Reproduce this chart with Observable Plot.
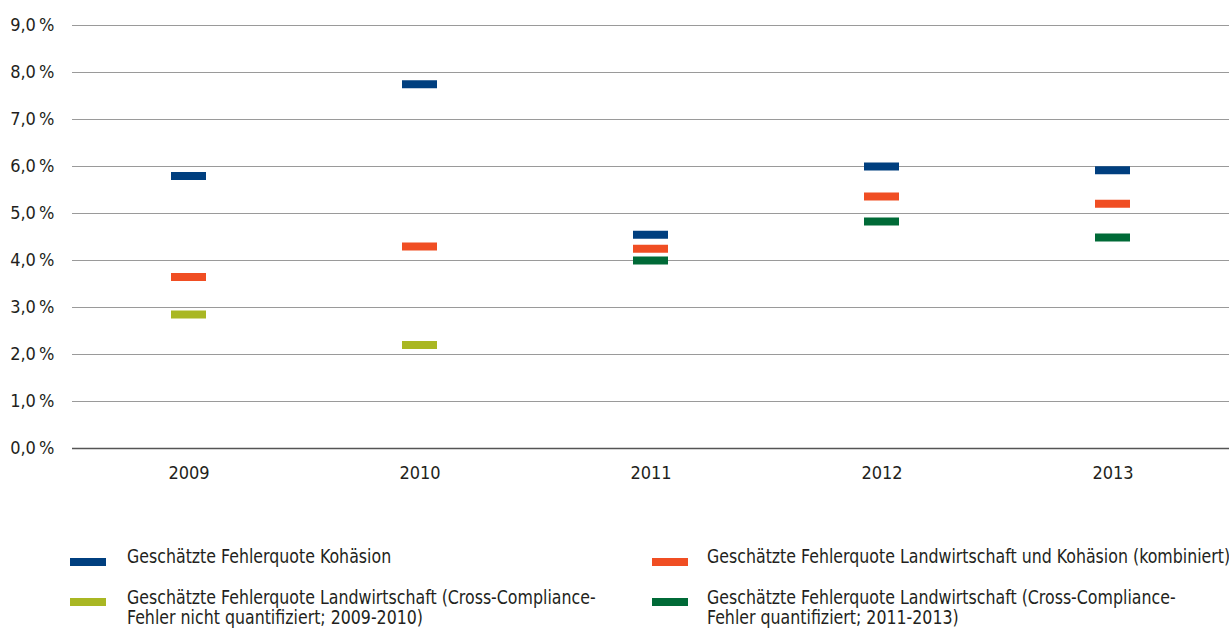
<!DOCTYPE html>
<html>
<head>
<meta charset="utf-8">
<script src="https://cdn.jsdelivr.net/npm/d3@7"></script>
<script src="https://cdn.jsdelivr.net/npm/@observablehq/plot@0.6"></script>
<style>
  html, body { margin: 0; padding: 0; background: #fff; overflow: hidden; width: 1229px; height: 632px; }
  body { font-family: "DejaVu Sans Condensed", "Liberation Sans", sans-serif; color: #231f20; position: relative; }
  #chart { position: absolute; left: 0; top: 0; }
  .leg { position: absolute; white-space: nowrap; font-size: 19px; line-height: 20px; color: #231f20; transform: scaleX(0.925); transform-origin: 0 0; }
  .sw { position: absolute; width: 36px; height: 8px; }
</style>
</head>
<body>
<div id="chart"></div>
<div id="legend"></div>
<script>
const years = ["2009", "2010", "2011", "2012", "2013"];
const kohaesion = [5.8, 7.75, 4.55, 6.0, 5.92];
const kombiniert = [3.65, 4.3, 4.25, 5.36, 5.21];
const landwNichtQuant = [2.85, 2.2, null, null, null];
const landwQuant = [null, null, 4.0, 4.83, 4.49];
const yTicks = [0, 1, 2, 3, 4, 5, 6, 7, 8, 9];

const seriesNames = [
  "Geschätzte Fehlerquote Kohäsion",
  "Geschätzte Fehlerquote Landwirtschaft und Kohäsion (kombiniert)",
  "Geschätzte Fehlerquote Landwirtschaft (Cross-Compliance-Fehler nicht quantifiziert; 2009-2010)",
  "Geschätzte Fehlerquote Landwirtschaft (Cross-Compliance-Fehler quantifiziert; 2011-2013)"
];
const seriesColors = ["#003f7f", "#f04e23", "#a9b723", "#006a37"];
const seriesValues = [kohaesion, kombiniert, landwNichtQuant, landwQuant];

const data = [];
seriesValues.forEach((vals, si) => {
  vals.forEach((v, i) => {
    if (v != null) data.push({year: years[i], value: v, series: seriesNames[si]});
  });
});

const fmt = d => d.toFixed(1).replace(".", ",") + "\u2009%";

const chart = Plot.plot({
  width: 1229,
  height: 500,
  marginLeft: 72,
  marginRight: 0,
  marginTop: 25,
  marginBottom: 52,
  style: {fontFamily: '"DejaVu Sans Condensed", sans-serif', fontSize: "18px", color: "#231f20", background: "#fff"},
  x: {domain: years, padding: 0, label: null},
  y: {domain: [0, 9], label: null},
  color: {domain: seriesNames, range: seriesColors},
  marks: [
    Plot.ruleY(yTicks.filter(d => d > 0), {stroke: "#9a9a9a", strokeWidth: 1.2}),
    Plot.ruleY([0], {stroke: "#555", strokeWidth: 1.3}),
    Plot.axisY({ticks: yTicks, tickFormat: fmt, tickSize: 0, tickPadding: 18, label: null, fill: "#231f20"}),
    Plot.axisX({tickSize: 0, tickPadding: 18, label: null, fill: "#231f20"}),
    Plot.tickY(data, {x: "year", y: "value", stroke: "series", strokeWidth: 8, inset: 98, strokeLinecap: "butt"})
  ]
});
document.getElementById("chart").appendChild(chart);

// Legend (HTML, below the SVG)
const legend = document.getElementById("legend");
const legendItems = [
  {i: 0, swx: 70, swy: 558, tx: 127, ty: 546, lines: ["Geschätzte Fehlerquote Kohäsion"]},
  {i: 1, swx: 652, swy: 558, tx: 707, ty: 546, lines: ["Geschätzte Fehlerquote Landwirtschaft und Kohäsion (kombiniert)"]},
  {i: 2, swx: 70, swy: 598, tx: 127, ty: 587, lines: ["Geschätzte Fehlerquote Landwirtschaft (Cross-Compliance-", "Fehler nicht quantifiziert; 2009-2010)"]},
  {i: 3, swx: 652, swy: 598, tx: 707, ty: 587, lines: ["Geschätzte Fehlerquote Landwirtschaft (Cross-Compliance-", "Fehler quantifiziert; 2011-2013)"]}
];
legendItems.forEach(it => {
  const sw = document.createElement("div");
  sw.className = "sw";
  sw.style.left = it.swx + "px";
  sw.style.top = it.swy + "px";
  sw.style.background = seriesColors[it.i];
  legend.appendChild(sw);
  const t = document.createElement("div");
  t.className = "leg";
  t.style.left = it.tx + "px";
  t.style.top = it.ty + "px";
  t.innerHTML = it.lines.join("<br>");
  legend.appendChild(t);
});
</script>
</body>
</html>
